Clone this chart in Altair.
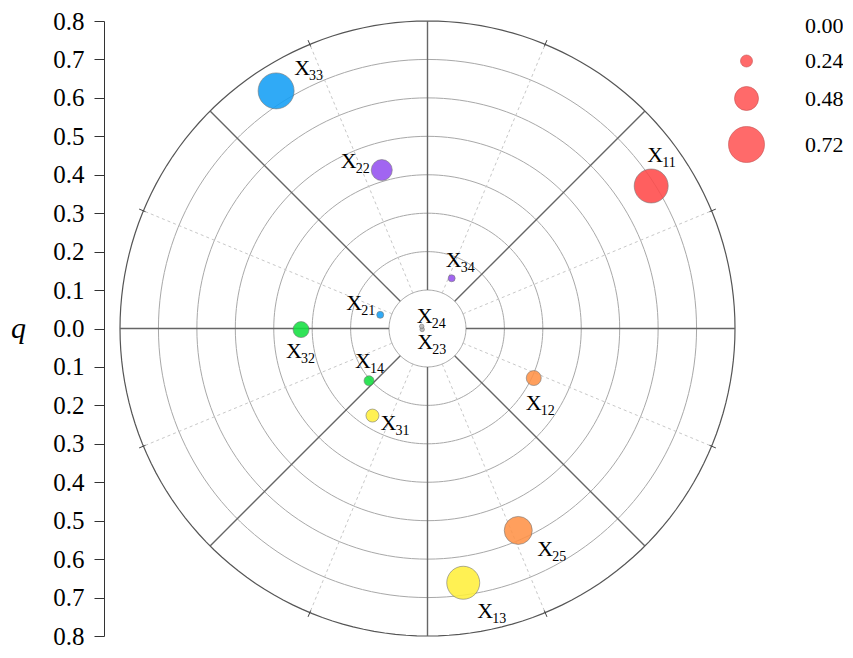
import altair as alt
import pandas as pd
import numpy as np

# ---- data ----
names = ["X11", "X12", "X13", "X14", "X21", "X22", "X23", "X24", "X25", "X31", "X32", "X33", "X34"]
q_vals = [0.69, 0.305, 0.668, 0.204, 0.128, 0.429, 0.014, 0.016, 0.576, 0.268, 0.329, 0.733, 0.145]
angle_deg = [32.5, 335.0, 278.0, 221.8, 163.9, 106.1, 190.0, 160.0, 294.2, 237.7, 180.5, 122.5, 64.3]
size_vals = [0.68, 0.30, 0.66, 0.20, 0.14, 0.42, 0.09, 0.09, 0.56, 0.26, 0.32, 0.72, 0.14]
point_colors = ["#ff4a4a", "#ff9247", "#fff03c", "#14e040", "#149ff5", "#9550f0",
                "#b4b4b4", "#b4b4b4", "#ff9247", "#fff03c", "#14e040", "#149ff5", "#9550f0"]
ring_levels = [0.1, 0.2, 0.3, 0.4, 0.5, 0.6, 0.7]
outer_level = [0.8]
solid_spokes = [0, 45, 90, 135, 180, 225, 270, 315]
dashed_spokes = [22.5, 67.5, 112.5, 157.5, 202.5, 247.5, 292.5, 337.5]
tick_values = [-0.8, -0.7, -0.6, -0.5, -0.4, -0.3, -0.2, -0.1, 0.0, 0.1, 0.2, 0.3, 0.4, 0.5, 0.6, 0.7, 0.8]
legend_values = [0.0, 0.24, 0.48, 0.72]

# label placement (pixel offsets of the "X" centre from the bubble centre; style only)
label_offsets = {
    "X11": (4, -31), "X12": (0, 25), "X13": (22, 28), "X14": (-6, -20),
    "X21": (-26, -12), "X22": (-33, -9), "X23": (3, 13), "X24": (3, -10),
    "X25": (27, 19), "X31": (16, 7), "X32": (-7, 21), "X33": (26, -23), "X34": (2, -18),
}

W = 615
H = 615
R_MAX = 0.8
PPU = W / (2 * R_MAX)
FONT = "Liberation Serif"

# ---- tables ----
rad = np.deg2rad(angle_deg)
pts = pd.DataFrame({
    "name": names,
    "q": q_vals,
    "s": size_vals,
    "x": np.array(q_vals) * np.cos(rad),
    "y": np.array(q_vals) * np.sin(rad),
})
pts["sub"] = pts["name"].str[1:]
pts["lx"] = pts["x"] + [label_offsets[n][0] / PPU for n in names]
pts["ly"] = pts["y"] - [label_offsets[n][1] / PPU for n in names]


def spoke_table(angles, r0, r1):
    a = np.deg2rad(angles)
    return pd.DataFrame({
        "x": r0 * np.cos(a), "y": r0 * np.sin(a),
        "x2": r1 * np.cos(a), "y2": r1 * np.sin(a),
    })


def ring_table(levels):
    t = np.deg2rad(np.arange(0, 361, 2))
    rows = []
    for lv in levels:
        for i, a in enumerate(t):
            rows.append({"r": lv, "i": i, "x": lv * np.cos(a), "y": lv * np.sin(a)})
    return pd.DataFrame(rows)


solid_df = spoke_table(solid_spokes, 0.1, R_MAX)
dashed_df = spoke_table(dashed_spokes, 0.1, R_MAX)
tick_df = spoke_table(dashed_spokes, R_MAX - 0.006, R_MAX + 0.012)
rings_df = ring_table(ring_levels)
outer_df = ring_table(outer_level)

xs = alt.Scale(domain=[-R_MAX, R_MAX], nice=False, zero=False)
ys = alt.Scale(domain=[-R_MAX, R_MAX], nice=False, zero=False)

yaxis = alt.Axis(
    values=tick_values,
    labelExpr="format(abs(datum.value), '.1f')",
    labelFont=FONT, labelFontSize=25, labelColor="black", labelPadding=10,
    tickSize=10, tickColor="#333", domainColor="#333", tickWidth=1, domainWidth=1,
    offset=16, grid=False,
    title="q", titleFont=FONT, titleFontSize=30, titleFontStyle="italic",
    titleFontWeight="normal", titleAngle=0, titleAlign="center", titleBaseline="middle",
    titleX=-86, titleY=H / 2, titleColor="black",
)


def X(field):
    return alt.X(field, type="quantitative", scale=xs, axis=None)


def Y(field):
    return alt.Y(field, type="quantitative", scale=ys, axis=yaxis)


rings = alt.Chart(rings_df).mark_line(color="#a8a8a8", strokeWidth=1).encode(
    x=X("x"), y=Y("y"), detail="r:N", order="i:Q"
)
outer = alt.Chart(outer_df).mark_line(color="#555555", strokeWidth=1.2).encode(
    x=X("x"), y=Y("y"), detail="r:N", order="i:Q"
)

solid = alt.Chart(solid_df).mark_rule(color="#666666", strokeWidth=1.4).encode(
    x=X("x"), y=Y("y"), x2="x2", y2="y2"
)
dashed = alt.Chart(dashed_df).mark_rule(color="#c8c8c8", strokeWidth=1, strokeDash=[3, 3]).encode(
    x=X("x"), y=Y("y"), x2="x2", y2="y2"
)
ticks = alt.Chart(tick_df).mark_rule(color="#444444", strokeWidth=1).encode(
    x=X("x"), y=Y("y"), x2="x2", y2="y2"
)

points = alt.Chart(pts).mark_circle(stroke="#666666", strokeWidth=0.6, opacity=0.88).encode(
    x=X("x"), y=Y("y"),
    color=alt.Color("name:N", scale=alt.Scale(domain=names, range=point_colors), legend=None),
    size=alt.Size(
        "s:Q",
        scale=alt.Scale(type="pow", exponent=2, domain=[0, R_MAX], range=[0, 1600]),
        legend=alt.Legend(
            values=legend_values, format=".2f", title=None, orient="none",
            legendX=608, legendY=-6, padding=0,
            labelFont=FONT, labelFontSize=22, labelColor="black", labelOffset=40,
            rowPadding=13, symbolType="circle",
            symbolFillColor="#ff5a5a", symbolStrokeColor="#c04040", symbolStrokeWidth=0.6,
            symbolOpacity=0.9,
        ),
    ),
)

lab_x = alt.Chart(pts).mark_text(
    font=FONT, fontSize=22, color="black", align="center", baseline="middle"
).encode(x=X("lx"), y=Y("ly"), text=alt.value("X"))

lab_sub = alt.Chart(pts).mark_text(
    font=FONT, fontSize=14, color="black", align="left", baseline="middle", dx=7, dy=8
).encode(x=X("lx"), y=Y("ly"), text="sub:N")

chart = alt.layer(rings, outer, dashed, ticks, solid, points, lab_x, lab_sub).properties(
    width=W, height=H,
    autosize=alt.AutoSizeParams(type="none"),
    padding={"left": 112, "top": 13, "right": 108, "bottom": 15},
).configure_view(stroke=None).configure_axis(labelFontSize=25, labelFont=FONT)

chart.save("out.html", embed_options={"renderer": "svg", "actions": False})
